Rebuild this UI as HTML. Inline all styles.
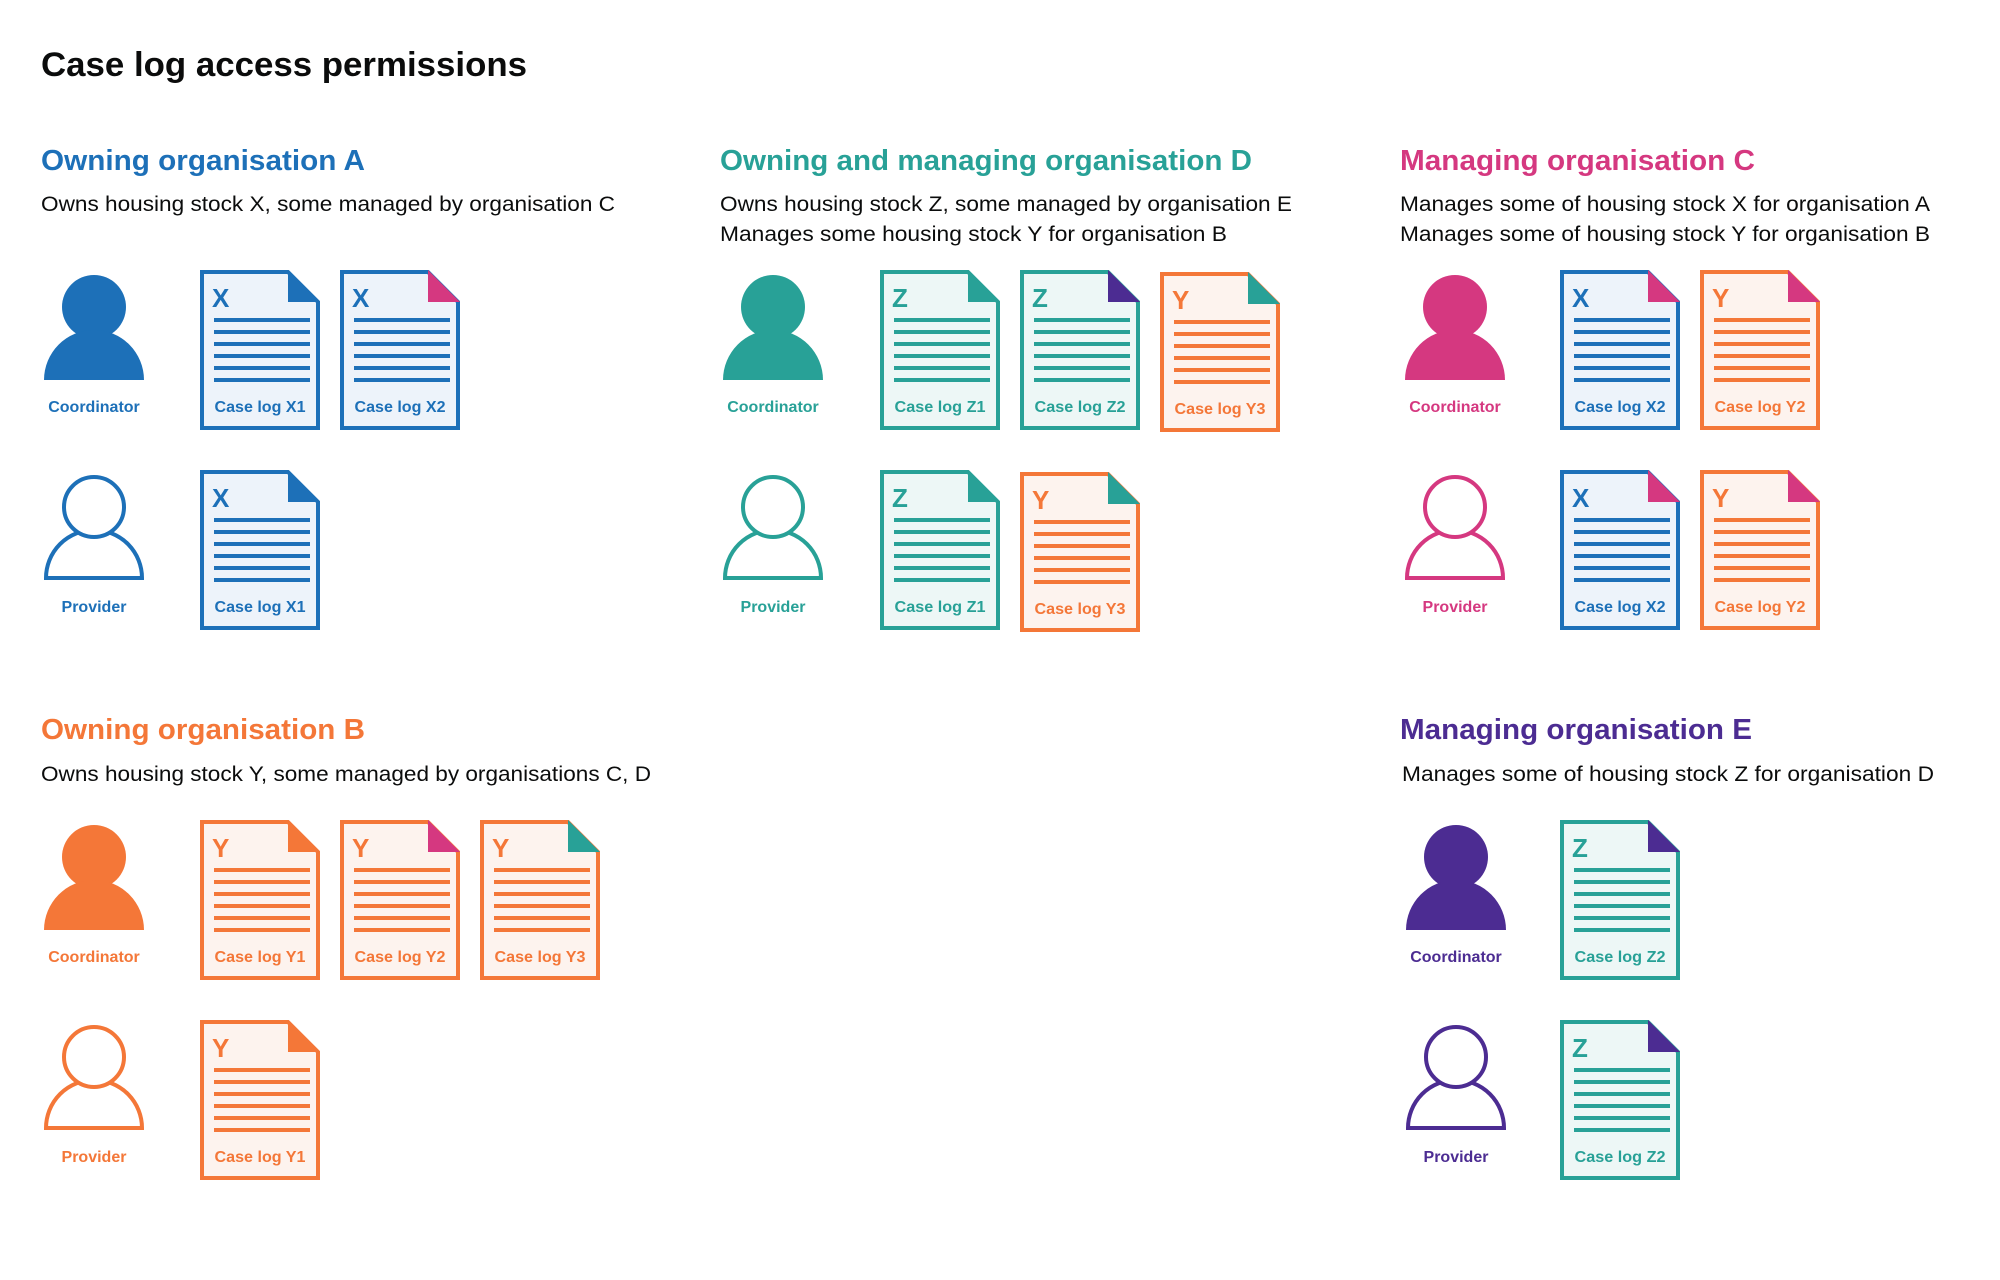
<!DOCTYPE html>
<html><head><meta charset="utf-8"><style>
html,body{margin:0;padding:0;background:#fff;}
svg{display:block;}
text{font-family:"Liberation Sans",sans-serif;}
.lb{font-weight:bold;font-size:16px;}
.lt{font-weight:bold;font-size:26px;}
</style></head><body>
<svg width="2000" height="1280" viewBox="0 0 2000 1280" xmlns="http://www.w3.org/2000/svg">
<defs>
<g id="lines" stroke="currentColor" stroke-width="4"><path d="M14,50H110M14,62H110M14,74H110M14,86H110M14,98H110M14,110H110"/></g>
<g id="pf"><circle cx="0" cy="37" r="32" fill="currentColor"/><path d="M-50,110A50,50 0 0 1 50,110Z" fill="currentColor"/></g>
<g id="po"><path d="M-48,108A48,48 0 0 1 48,108Z" fill="#fff" stroke="currentColor" stroke-width="4"/><circle cx="0" cy="37" r="30" fill="#fff" stroke="currentColor" stroke-width="4"/></g>
</defs>
<text x="41" y="76" font-size="34" font-weight="bold" fill="#0b0c0c" textLength="486" lengthAdjust="spacingAndGlyphs">Case log access permissions</text>

<g font-size="29" font-weight="bold">
<text x="41" y="170" fill="#1d70b8" textLength="324" lengthAdjust="spacingAndGlyphs">Owning organisation A</text>
<text x="720" y="170" fill="#28a197" textLength="532" lengthAdjust="spacingAndGlyphs">Owning and managing organisation D</text>
<text x="1400" y="170" fill="#d53880" textLength="355" lengthAdjust="spacingAndGlyphs">Managing organisation C</text>
<text x="41" y="739" fill="#f47738" textLength="324" lengthAdjust="spacingAndGlyphs">Owning organisation B</text>
<text x="1400" y="739" fill="#4c2c92" textLength="352" lengthAdjust="spacingAndGlyphs">Managing organisation E</text>
</g>
<g font-size="21" fill="#0b0c0c">
<text x="41" y="211" textLength="574" lengthAdjust="spacingAndGlyphs">Owns housing stock X, some managed by organisation C</text>
<text x="720" y="211" textLength="572" lengthAdjust="spacingAndGlyphs">Owns housing stock Z, some managed by organisation E</text>
<text x="720" y="241" textLength="507" lengthAdjust="spacingAndGlyphs">Manages some housing stock Y for organisation B</text>
<text x="1400" y="211" textLength="530" lengthAdjust="spacingAndGlyphs">Manages some of housing stock X for organisation A</text>
<text x="1400" y="241" textLength="530" lengthAdjust="spacingAndGlyphs">Manages some of housing stock Y for organisation B</text>
<text x="41" y="781" textLength="610" lengthAdjust="spacingAndGlyphs">Owns housing stock Y, some managed by organisations C, D</text>
<text x="1402" y="781" textLength="532" lengthAdjust="spacingAndGlyphs">Manages some of housing stock Z for organisation D</text>
</g>

<g class="lb" text-anchor="middle">
<g color="#1d70b8" fill="#1d70b8"><use href="#pf" transform="translate(94,270)"/><text x="94" y="412">Coordinator</text><use href="#po" transform="translate(94,470)"/><text x="94" y="612">Provider</text></g>
<g color="#28a197" fill="#28a197"><use href="#pf" transform="translate(773,270)"/><text x="773" y="412">Coordinator</text><use href="#po" transform="translate(773,470)"/><text x="773" y="612">Provider</text></g>
<g color="#d53880" fill="#d53880"><use href="#pf" transform="translate(1455,270)"/><text x="1455" y="412">Coordinator</text><use href="#po" transform="translate(1455,470)"/><text x="1455" y="612">Provider</text></g>
<g color="#f47738" fill="#f47738"><use href="#pf" transform="translate(94,820)"/><text x="94" y="962">Coordinator</text><use href="#po" transform="translate(94,1020)"/><text x="94" y="1162">Provider</text></g>
<g color="#4c2c92" fill="#4c2c92"><use href="#pf" transform="translate(1456,820)"/><text x="1456" y="962">Coordinator</text><use href="#po" transform="translate(1456,1020)"/><text x="1456" y="1162">Provider</text></g>
</g>

<g color="#1d70b8">
 <g transform="translate(200,270)"><path d="M2,2H88L118,32V158H2Z" fill="#edf3fa" stroke="currentColor" stroke-width="4"/><path d="M88,0L120,32H88Z" fill="#1d70b8"/><use href="#lines"/><text x="12" y="37" class="lt" fill="currentColor">X</text><text x="60" y="142" class="lb" fill="currentColor" text-anchor="middle" textLength="91" lengthAdjust="spacingAndGlyphs">Case log X1</text></g>
 <g transform="translate(340,270)"><path d="M2,2H88L118,32V158H2Z" fill="#edf3fa" stroke="currentColor" stroke-width="4"/><path d="M88,0L120,32H88Z" fill="#d53880"/><use href="#lines"/><text x="12" y="37" class="lt" fill="currentColor">X</text><text x="60" y="142" class="lb" fill="currentColor" text-anchor="middle" textLength="91" lengthAdjust="spacingAndGlyphs">Case log X2</text></g>
 <g transform="translate(200,470)"><path d="M2,2H88L118,32V158H2Z" fill="#edf3fa" stroke="currentColor" stroke-width="4"/><path d="M88,0L120,32H88Z" fill="#1d70b8"/><use href="#lines"/><text x="12" y="37" class="lt" fill="currentColor">X</text><text x="60" y="142" class="lb" fill="currentColor" text-anchor="middle" textLength="91" lengthAdjust="spacingAndGlyphs">Case log X1</text></g>
 <g transform="translate(1560,270)"><path d="M2,2H88L118,32V158H2Z" fill="#edf3fa" stroke="currentColor" stroke-width="4"/><path d="M88,0L120,32H88Z" fill="#d53880"/><use href="#lines"/><text x="12" y="37" class="lt" fill="currentColor">X</text><text x="60" y="142" class="lb" fill="currentColor" text-anchor="middle" textLength="91" lengthAdjust="spacingAndGlyphs">Case log X2</text></g>
 <g transform="translate(1560,470)"><path d="M2,2H88L118,32V158H2Z" fill="#edf3fa" stroke="currentColor" stroke-width="4"/><path d="M88,0L120,32H88Z" fill="#d53880"/><use href="#lines"/><text x="12" y="37" class="lt" fill="currentColor">X</text><text x="60" y="142" class="lb" fill="currentColor" text-anchor="middle" textLength="91" lengthAdjust="spacingAndGlyphs">Case log X2</text></g>
</g>
<g color="#28a197">
 <g transform="translate(880,270)"><path d="M2,2H88L118,32V158H2Z" fill="#edf7f6" stroke="currentColor" stroke-width="4"/><path d="M88,0L120,32H88Z" fill="#28a197"/><use href="#lines"/><text x="12" y="37" class="lt" fill="currentColor">Z</text><text x="60" y="142" class="lb" fill="currentColor" text-anchor="middle" textLength="91" lengthAdjust="spacingAndGlyphs">Case log Z1</text></g>
 <g transform="translate(1020,270)"><path d="M2,2H88L118,32V158H2Z" fill="#edf7f6" stroke="currentColor" stroke-width="4"/><path d="M88,0L120,32H88Z" fill="#4c2c92"/><use href="#lines"/><text x="12" y="37" class="lt" fill="currentColor">Z</text><text x="60" y="142" class="lb" fill="currentColor" text-anchor="middle" textLength="91" lengthAdjust="spacingAndGlyphs">Case log Z2</text></g>
 <g transform="translate(880,470)"><path d="M2,2H88L118,32V158H2Z" fill="#edf7f6" stroke="currentColor" stroke-width="4"/><path d="M88,0L120,32H88Z" fill="#28a197"/><use href="#lines"/><text x="12" y="37" class="lt" fill="currentColor">Z</text><text x="60" y="142" class="lb" fill="currentColor" text-anchor="middle" textLength="91" lengthAdjust="spacingAndGlyphs">Case log Z1</text></g>
 <g transform="translate(1560,820)"><path d="M2,2H88L118,32V158H2Z" fill="#edf7f6" stroke="currentColor" stroke-width="4"/><path d="M88,0L120,32H88Z" fill="#4c2c92"/><use href="#lines"/><text x="12" y="37" class="lt" fill="currentColor">Z</text><text x="60" y="142" class="lb" fill="currentColor" text-anchor="middle" textLength="91" lengthAdjust="spacingAndGlyphs">Case log Z2</text></g>
 <g transform="translate(1560,1020)"><path d="M2,2H88L118,32V158H2Z" fill="#edf7f6" stroke="currentColor" stroke-width="4"/><path d="M88,0L120,32H88Z" fill="#4c2c92"/><use href="#lines"/><text x="12" y="37" class="lt" fill="currentColor">Z</text><text x="60" y="142" class="lb" fill="currentColor" text-anchor="middle" textLength="91" lengthAdjust="spacingAndGlyphs">Case log Z2</text></g>
</g>
<g color="#f47738">
 <g transform="translate(1160,272)"><path d="M2,2H88L118,32V158H2Z" fill="#fdf3ee" stroke="currentColor" stroke-width="4"/><path d="M88,0L120,32H88Z" fill="#28a197"/><use href="#lines"/><text x="12" y="37" class="lt" fill="currentColor">Y</text><text x="60" y="142" class="lb" fill="currentColor" text-anchor="middle" textLength="91" lengthAdjust="spacingAndGlyphs">Case log Y3</text></g>
 <g transform="translate(1020,472)"><path d="M2,2H88L118,32V158H2Z" fill="#fdf3ee" stroke="currentColor" stroke-width="4"/><path d="M88,0L120,32H88Z" fill="#28a197"/><use href="#lines"/><text x="12" y="37" class="lt" fill="currentColor">Y</text><text x="60" y="142" class="lb" fill="currentColor" text-anchor="middle" textLength="91" lengthAdjust="spacingAndGlyphs">Case log Y3</text></g>
 <g transform="translate(1700,270)"><path d="M2,2H88L118,32V158H2Z" fill="#fdf3ee" stroke="currentColor" stroke-width="4"/><path d="M88,0L120,32H88Z" fill="#d53880"/><use href="#lines"/><text x="12" y="37" class="lt" fill="currentColor">Y</text><text x="60" y="142" class="lb" fill="currentColor" text-anchor="middle" textLength="91" lengthAdjust="spacingAndGlyphs">Case log Y2</text></g>
 <g transform="translate(1700,470)"><path d="M2,2H88L118,32V158H2Z" fill="#fdf3ee" stroke="currentColor" stroke-width="4"/><path d="M88,0L120,32H88Z" fill="#d53880"/><use href="#lines"/><text x="12" y="37" class="lt" fill="currentColor">Y</text><text x="60" y="142" class="lb" fill="currentColor" text-anchor="middle" textLength="91" lengthAdjust="spacingAndGlyphs">Case log Y2</text></g>
 <g transform="translate(200,820)"><path d="M2,2H88L118,32V158H2Z" fill="#fdf3ee" stroke="currentColor" stroke-width="4"/><path d="M88,0L120,32H88Z" fill="#f47738"/><use href="#lines"/><text x="12" y="37" class="lt" fill="currentColor">Y</text><text x="60" y="142" class="lb" fill="currentColor" text-anchor="middle" textLength="91" lengthAdjust="spacingAndGlyphs">Case log Y1</text></g>
 <g transform="translate(340,820)"><path d="M2,2H88L118,32V158H2Z" fill="#fdf3ee" stroke="currentColor" stroke-width="4"/><path d="M88,0L120,32H88Z" fill="#d53880"/><use href="#lines"/><text x="12" y="37" class="lt" fill="currentColor">Y</text><text x="60" y="142" class="lb" fill="currentColor" text-anchor="middle" textLength="91" lengthAdjust="spacingAndGlyphs">Case log Y2</text></g>
 <g transform="translate(480,820)"><path d="M2,2H88L118,32V158H2Z" fill="#fdf3ee" stroke="currentColor" stroke-width="4"/><path d="M88,0L120,32H88Z" fill="#28a197"/><use href="#lines"/><text x="12" y="37" class="lt" fill="currentColor">Y</text><text x="60" y="142" class="lb" fill="currentColor" text-anchor="middle" textLength="91" lengthAdjust="spacingAndGlyphs">Case log Y3</text></g>
 <g transform="translate(200,1020)"><path d="M2,2H88L118,32V158H2Z" fill="#fdf3ee" stroke="currentColor" stroke-width="4"/><path d="M88,0L120,32H88Z" fill="#f47738"/><use href="#lines"/><text x="12" y="37" class="lt" fill="currentColor">Y</text><text x="60" y="142" class="lb" fill="currentColor" text-anchor="middle" textLength="91" lengthAdjust="spacingAndGlyphs">Case log Y1</text></g>
</g>
</svg>
</body></html>
